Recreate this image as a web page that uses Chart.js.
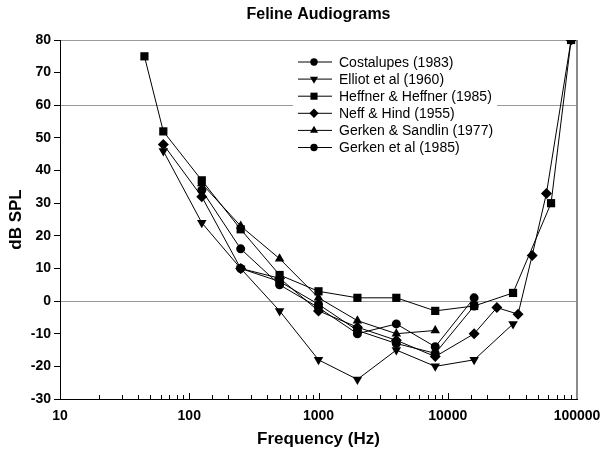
<!DOCTYPE html>
<html lang="en">
<head>
<meta charset="UTF-8">
<title>Feline Audiograms</title>
<script src="https://cdn.jsdelivr.net/npm/chart.js"></script>
<style>
  html, body { margin: 0; padding: 0; background: #fff; }
  #wrap { width: 603px; height: 450px; }
</style>
</head>
<body>
<div id="wrap"><canvas id="audiogram"></canvas></div>
<script>
// values (Hz, dB SPL)
const costalupesHz = [125, 250, 500, 1000, 2000, 4000, 8000, 16000];
const costalupesDb = [34, 16, 5, -2, -10, -7, -14, 1];

const elliotHz = [63, 125, 250, 500, 1000, 2000, 4000, 8000, 16000, 32000];
const elliotDb = [46, 24, 10, -3, -18, -24, -15, -20, -18, -7];

const heffnerHz = [45, 63, 125, 250, 500, 1000, 2000, 4000, 8000, 16000, 32000, 63000, 90000];
const heffnerDb = [75, 52, 37, 22, 8, 3, 1, 1, -3, -1.5, 2.5, 30, 80];

const neffHz = [63, 125, 250, 500, 1000, 2000, 4000, 8000, 16000, 24000, 35000, 45000, 58000, 90000];
const neffDb = [48, 32, 10, 7, -3, -8, -12, -17, -10, -2, -4, 14, 33, 80];

const sandlinHz = [125, 250, 500, 1000, 2000, 4000, 8000];
const sandlinDb = [36, 23, 13, 1, -6, -10, -9];

const gerkenHz = [250, 500, 1000, 2000, 4000, 8000, 16000];
const gerkenDb = [10, 6, -1, -9, -13, -16, -1.5];

const seriesNames = ['Costalupes (1983)', 'Elliot et al (1960)', 'Heffner & Heffner (1985)',
                     'Neff & Hind (1955)', 'Gerken & Sandlin (1977)', 'Gerken et al (1985)'];
const yTicks = [-30, -20, -10, 0, 10, 20, 30, 40, 50, 60, 70, 80];

const FONT = 'Arial, "Liberation Sans", sans-serif';

function pts(hz, db) {
    return hz.map((f, i) => ({ x: f, y: db[i] }));
}

const markers = [
    { style: 'circle', r: 4.5, rot: 0 },
    { style: 'triangle', r: 5.5, rot: 180 },
    { style: 'rect', r: 5.8, rot: 0 },
    { style: 'rectRot', r: 5.5, rot: 0 },
    { style: 'triangle', r: 5.5, rot: 0 },
    { style: 'circle', r: 4.5, rot: 0 }
];

const allData = [
    pts(costalupesHz, costalupesDb),
    pts(elliotHz, elliotDb),
    pts(heffnerHz, heffnerDb),
    pts(neffHz, neffDb),
    pts(sandlinHz, sandlinDb),
    pts(gerkenHz, gerkenDb)
];

const datasets = allData.map((d, i) => ({
    label: seriesNames[i],
    data: d,
    showLine: true,
    borderColor: '#000',
    borderWidth: 1,
    backgroundColor: '#000',
    pointBackgroundColor: '#000',
    pointBorderColor: '#000',
    pointBorderWidth: 0,
    pointStyle: markers[i].style,
    pointRadius: markers[i].r,
    pointRotation: markers[i].rot
}));

// frame, inner x ticks, legend box and title
const extras = {
    id: 'extras',
    beforeDatasetsDraw(chart) {
        const ctx = chart.ctx;
        const a = chart.chartArea;
        const x = chart.scales.x;
        ctx.save();
        ctx.strokeStyle = '#000';
        ctx.lineWidth = 1;
        x.ticks.forEach(t => {
            const px = Math.round(x.getPixelForValue(t.value)) + 0.5;
            const major = Math.abs(Math.log10(t.value) % 1) < 1e-6;
            ctx.beginPath();
            ctx.moveTo(px, a.bottom);
            ctx.lineTo(px, a.bottom - (major ? 6 : 4));
            ctx.stroke();
        });
        // right border
        ctx.strokeStyle = '#8a8a8a';
        ctx.lineWidth = 2;
        ctx.beginPath();
        ctx.moveTo(a.right, a.top);
        ctx.lineTo(a.right, a.bottom);
        ctx.stroke();
        ctx.restore();
    },
    afterDraw(chart) {
        const ctx = chart.ctx;
        const a = chart.chartArea;
        ctx.save();
        // title
        ctx.fillStyle = '#000';
        ctx.font = 'bold 16px ' + FONT;
        ctx.textAlign = 'center';
        ctx.textBaseline = 'middle';
        ctx.fillText('Feline Audiograms', (a.left + a.right) / 2, 15);

        // legend
        const lx = a.left + 233, ly = a.top + 12;
        ctx.fillStyle = '#fff';
        ctx.fillRect(lx, ly, 204, 104);
        ctx.font = '14px ' + FONT;
        ctx.textAlign = 'left';
        seriesNames.forEach((name, i) => {
            const y = a.top + 22 + i * 17.1;
            ctx.strokeStyle = '#000';
            ctx.lineWidth = 1;
            ctx.beginPath();
            ctx.moveTo(a.left + 238, y);
            ctx.lineTo(a.left + 272, y);
            ctx.stroke();
            ctx.fillStyle = '#000';
            Chart.helpers.drawPoint(ctx, {
                pointStyle: markers[i].style,
                radius: markers[i].r - 0.8,
                rotation: markers[i].rot,
                borderWidth: 0
            }, a.left + 254, y);
            ctx.fillStyle = '#000';
            ctx.fillText(name, a.left + 279, y + 1);
        });
        ctx.restore();
    }
};

new Chart(document.getElementById('audiogram'), {
    type: 'scatter',
    data: { datasets: datasets },
    options: {
        responsive: true,
        maintainAspectRatio: false,
        animation: false,
        layout: { padding: { top: 40, right: 26, left: 6, bottom: 0 } },
        plugins: {
            legend: { display: false },
            title: { display: false },
            tooltip: { enabled: false }
        },
        scales: {
            x: {
                type: 'logarithmic',
                min: 10,
                max: 100000,
                border: { display: true, color: '#000', width: 1 },
                grid: { display: true, drawOnChartArea: false, drawTicks: false },
                ticks: {
                    autoSkip: false,
                    maxRotation: 0,
                    padding: 9,
                    color: '#000',
                    font: { family: FONT, size: 14, weight: 'bold' },
                    callback: v => {
                        const l = Math.log10(v);
                        return Math.abs(l - Math.round(l)) < 1e-6 ? String(v) : '';
                    }
                },
                title: {
                    display: true,
                    text: 'Frequency (Hz)',
                    color: '#000',
                    font: { family: FONT, size: 17, weight: 'bold' },
                    padding: { top: 11, bottom: 0 }
                },
                afterFit: s => { s.height = 51; s.paddingLeft = 0; s.paddingRight = 0; }
            },
            y: {
                min: -30,
                max: 80,
                afterBuildTicks: s => { s.ticks = yTicks.map(v => ({ value: v })); },
                border: { display: true, color: '#000', width: 1 },
                grid: {
                    drawTicks: true,
                    tickLength: 6,
                    tickColor: '#000',
                    color: c => (c.tick && (c.tick.value === 0 || c.tick.value === 60 || c.tick.value === 80)) ? '#9a9a9a' : 'rgba(0,0,0,0)',
                    lineWidth: 1
                },
                ticks: {
                    padding: 3,
                    color: '#000',
                    font: { family: FONT, size: 14, weight: 'bold' }
                },
                title: {
                    display: true,
                    text: 'dB SPL',
                    color: '#000',
                    font: { family: FONT, size: 17, weight: 'bold' },
                    padding: { top: 0, bottom: 0 }
                },
                afterFit: s => { s.width = 54; s.paddingTop = 0; s.paddingBottom = 0; }
            }
        }
    },
    plugins: [extras]
});
</script>
</body>
</html>
